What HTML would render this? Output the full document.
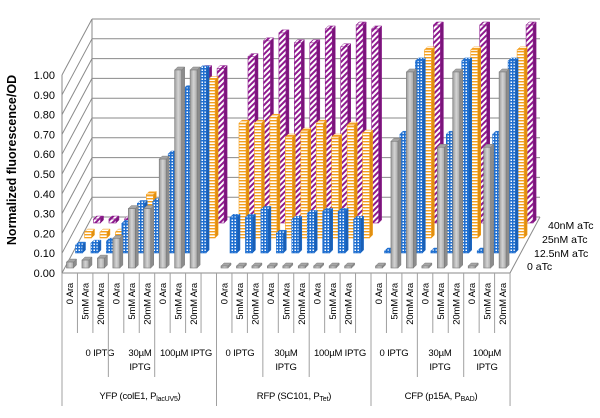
<!DOCTYPE html>
<html><head><meta charset="utf-8"><style>
html,body{margin:0;padding:0;background:#fff;}
svg{display:block;font-family:"Liberation Sans",sans-serif;}
</style></head><body>
<svg id="chart" width="600" height="418" viewBox="0 0 600 418" xmlns="http://www.w3.org/2000/svg">
<defs>
<linearGradient id="gGray" x1="0" x2="1" y1="0" y2="0"><stop offset="0" stop-color="#9a9a9a"/><stop offset="0.5" stop-color="#d4d4d4"/><stop offset="1" stop-color="#a8a8a8"/></linearGradient>
<pattern id="pBlue" width="3" height="3" patternUnits="userSpaceOnUse"><rect width="3" height="3" fill="#1f6fd0"/><rect x="0.5" y="0.5" width="1.5" height="1.5" fill="#fff"/></pattern>
<pattern id="pOrange" width="3" height="3" patternUnits="userSpaceOnUse"><rect width="3" height="3" fill="#fff"/><rect width="3" height="1.4" fill="#f5a01e"/></pattern>
<pattern id="pPurple" width="4" height="4" patternUnits="userSpaceOnUse" patternTransform="rotate(45)"><rect width="4" height="4" fill="#fff"/><rect width="2" height="4" fill="#8e1a8e"/></pattern>
</defs>
<g id="grid"></g>
<g id="bars"></g>
<g id="axes"></g>
<text transform="translate(16,160) rotate(-90)" text-anchor="middle" font-size="12.5" font-weight="bold" fill="#000">Normalized fluorescence/OD</text>
<g font-size="10.5" fill="#000">
<text x="548" y="229">40nM aTc</text>
<text x="542" y="243">25nM aTc</text>
<text x="534" y="257">12.5nM aTc</text>
<text x="527" y="270">0 aTc</text>
</g>
<g font-size="9.5" fill="#000" text-anchor="middle" letter-spacing="-0.2">
<text x="100" y="356">0 IPTG</text>
<text x="140" y="356">30µM</text>
<text x="140" y="370">IPTG</text>
<text x="186" y="356">100µM IPTG</text>
<text x="240" y="356">0 IPTG</text>
<text x="286" y="356">30µM</text>
<text x="286" y="370">IPTG</text>
<text x="340" y="356">100µM IPTG</text>
<text x="394" y="356">0 IPTG</text>
<text x="440" y="356">30µM</text>
<text x="440" y="370">IPTG</text>
<text x="487" y="356">100µM</text>
<text x="487" y="370">IPTG</text>
<text x="140" y="399">YFP (colE1, P<tspan font-size="7" dy="2">lacUV5</tspan><tspan dy="-2">)</tspan></text>
<text x="294" y="399">RFP (SC101, P<tspan font-size="7" dy="2">Tet</tspan><tspan dy="-2">)</tspan></text>
<text x="441" y="399">CFP (p15A, P<tspan font-size="7" dy="2">BAD</tspan><tspan dy="-2">)</tspan></text>
</g>
<g id="table"></g>
</svg>
<script>
const categories = ["0 Ara","5mM Ara","20mM Ara","0 Ara","5mM Ara","20mM Ara","0 Ara","5mM Ara","20mM Ara",
 "0 Ara","5mM Ara","20mM Ara","0 Ara","5mM Ara","20mM Ara","0 Ara","5mM Ara","20mM Ara",
 "0 Ara","5mM Ara","20mM Ara","0 Ara","5mM Ara","20mM Ara","0 Ara","5mM Ara","20mM Ara"];
const seriesNames = ["0 aTc","12.5nM aTc","25nM aTc","40nM aTc"];
const s0aTc = [0.03,0.04,0.05,0.15,0.30,0.30,0.55,1.00,1.00, 0.01,0.01,0.01,0.01,0.01,0.01,0.01,0.01,0.01, 0.01,0.64,0.99,0.01,0.61,0.99,0.01,0.61,0.99];
const s12aTc = [0.04,0.05,0.06,0.15,0.25,0.26,0.50,0.83,0.93, 0.18,0.18,0.22,0.10,0.17,0.20,0.21,0.21,0.17, 0.01,0.60,0.97,0.01,0.60,0.97,0.01,0.60,0.97];
const s25aTc = [0.03,0.03,0.03,0.05,0.22,0.22,0.45,0.80,0.80, 0.58,0.58,0.61,0.51,0.54,0.58,0.51,0.57,0.53, 0.01,0.62,0.95,0.01,0.62,0.95,0.01,0.62,0.95];
const s40aTc = [0.02,0.02,0.02,0.03,0.10,0.12,0.40,0.78,0.78, 0.84,0.92,0.96,0.91,0.91,0.98,0.89,1.00,0.98, 0.01,0.60,1.00,0.01,0.60,1.00,0.01,0.60,1.00];
const yTicks = ["0.00","0.10","0.20","0.30","0.40","0.50","0.60","0.70","0.80","0.90","1.00"];

const NS="http://www.w3.org/2000/svg";
function mk(tag,attrs,parent){const e=document.createElementNS(NS,tag);for(const k in attrs)e.setAttribute(k,attrs[k]);parent.appendChild(e);return e;}
const X0=62, SLOT=15.45, UNIT=198, FRONT0=273, BACKX=92, BACK0=217, RIGHTX=510, BACKR=540;
function slotOf(c){return c+Math.floor(c/9);}
function xCat(c,row){return X0+slotOf(c)*SLOT+4.5+row*9;}
function yVal(v,row){return (268-row*15)-v*UNIT;}

const grid=document.getElementById('grid');
yTicks.forEach((t,i)=>{
  const v=parseFloat(t);
  const l1=mk('line',{x1:X0,y1:FRONT0-v*UNIT,x2:BACKX,y2:BACK0-v*UNIT,stroke:'#8a8a8a','stroke-width':1},grid);
  
  
  const l2=mk('line',{x1:BACKX,y1:BACK0-v*UNIT,x2:BACKR,y2:BACK0-v*UNIT,stroke:'#8a8a8a','stroke-width':1},grid);
  
  
  const tx=mk('text',{x:55,y:FRONT0-v*UNIT+4,'text-anchor':'end','font-size':11,fill:'#000'},grid);
  tx.textContent=t;
  
  
});
[[X0,FRONT0-UNIT,X0,FRONT0],[BACKX,BACK0-UNIT,BACKX,BACK0],[X0,FRONT0,RIGHTX,FRONT0],[RIGHTX,FRONT0,BACKR,BACK0]].forEach(p=>{
  const l=mk('line',{x1:p[0],y1:p[1],x2:p[2],y2:p[3],stroke:'#8a8a8a','stroke-width':1},grid);
  
  
});

const bars=document.getElementById('bars');
const rows=[s0aTc,s12aTc,s25aTc,s40aTc];
const styles=[
 {front:'url(#gGray)',side:'#8c8c8c',top:'#a6a6a6',stroke:'#7a7a7a'},
 {front:'url(#pBlue)',side:'#1a5fb5',top:'url(#pBlue)',stroke:'#1f6fd0'},
 {front:'url(#pOrange)',side:'#e08f10',top:'url(#pOrange)',stroke:'#f5a01e'},
 {front:'url(#pPurple)',side:'#7a157a',top:'url(#pPurple)',stroke:'#8e1a8e'}];
const W=7, D=3;
for(let r=3;r>=0;r--){
  const g=mk('g',{},bars);
  
  
  rows[r].forEach((v,c)=>{
    const x=xCat(c,r), yb=yVal(0,r), yt=yVal(v,r), st=styles[r];
    const b=mk('g',{},g);
    
    
    mk('polygon',{points:`${x+W},${yt} ${x+W+D},${yt-D} ${x+W+D},${yb-D} ${x+W},${yb}`,fill:st.side,stroke:st.stroke,'stroke-width':0.5},b);
    mk('polygon',{points:`${x},${yt} ${x+D},${yt-D} ${x+W+D},${yt-D} ${x+W},${yt}`,fill:st.top,stroke:st.stroke,'stroke-width':0.5},b);
    mk('rect',{x:x,y:yt,width:W,height:Math.max(yb-yt,0.5),fill:st.front,stroke:st.stroke,'stroke-width':0.6},b);
  });
}

const table=document.getElementById('table');
function tl(x1,y1,x2,y2,name){const l=mk('line',{x1:x1,y1:y1,x2:x2,y2:y2,stroke:'#a0a0a0','stroke-width':1},table);
  
  }
for(let s=0;s<=29;s++){
  const x=X0+s*SLOT;
  let yEnd=333;
  if(s===0||s===10||s===20||s===29) yEnd=406;
  else if(s===3||s===6||s===13||s===16||s===23||s===26) yEnd=377;
  tl(x,FRONT0,x,yEnd,'category-separator');
}
categories.forEach((c,i)=>{
  const cx=X0+slotOf(i)*SLOT+SLOT/2+3.5;
  const t=mk('text',{transform:`translate(${cx},283) rotate(-90)`,'text-anchor':'end','font-size':9.5,fill:'#000','letter-spacing':'-0.2'},table);
  t.textContent=c;
  
  
});
</script>
</body></html>
